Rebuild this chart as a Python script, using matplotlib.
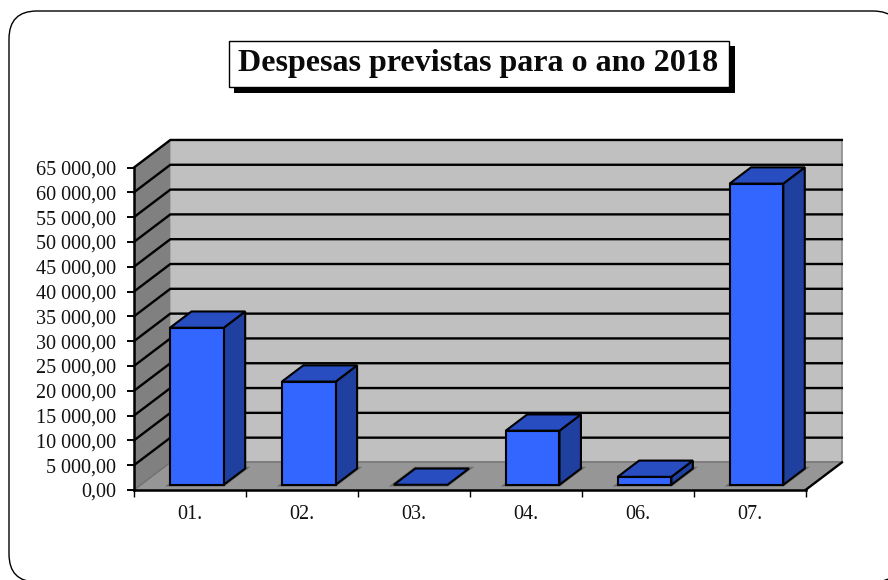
import matplotlib
matplotlib.use("Agg")
import matplotlib.pyplot as plt
from matplotlib.patches import FancyBboxPatch, Polygon, Rectangle

categories = ["01.", "02.", "03.", "04.", "06.", "07."]
values = [31650, 20800, 0, 10900, 1600, 60700]
y_ticks = [0, 5000, 10000, 15000, 20000, 25000, 30000, 35000, 40000, 45000, 50000, 55000, 60000, 65000]
y_labels = ["0,00", "5 000,00", "10 000,00", "15 000,00", "20 000,00", "25 000,00", "30 000,00",
            "35 000,00", "40 000,00", "45 000,00", "50 000,00", "55 000,00", "60 000,00", "65 000,00"]
title = "Despesas previstas para o ano 2018"

W, H = 888, 580
Y_MAX = 65000
DEPTH_X = 0.325     # how far the back wall sits, in category widths
DEPTH_Y = 5550      # same thing in value units
BAR_W = 0.48
BAR_D0, BAR_D1 = 0.19, 0.78

WALL = "#c0c0c0"
SIDE_WALL = "#808080"
FLOOR = "#969696"
FRONT = "#3366ff"
TOP = "#274dc0"
SIDE = "#2040a0"


def proj(x, y, d):
    return (x + d * DEPTH_X, y + d * DEPTH_Y)


def face(ax, pts, color, z, lw=1.5, edge="black"):
    ax.add_patch(Polygon(pts, closed=True, facecolor=color, edgecolor=edge,
                         linewidth=lw, zorder=z, clip_on=False, joinstyle="miter"))


def fig_rect(px0, py0, px1, py1, **kw):
    return Rectangle((px0 / W, 1 - py1 / H), (px1 - px0) / W, (py1 - py0) / H,
                     transform=fig.transFigure, **kw)


fig = plt.figure(figsize=(W / 100, H / 100), dpi=100, facecolor="white")

# rounded outer frame, runs off the right side and the bottom of the picture
# needs a filled face and a low zorder, an unfilled path gets clipped badly at the canvas edge
fig.add_artist(FancyBboxPatch((9 / W, 1 - 582 / H), 892 / W, 571 / H,
                              boxstyle="round,pad=0,rounding_size=0.0315",
                              mutation_aspect=W / H,
                              transform=fig.transFigure, facecolor="white",
                              edgecolor="black", linewidth=1.0, zorder=-1))

ax = fig.add_axes([134 / W, 1 - 490 / H, (805.5 - 134) / W, (490 - 167.5) / H])
ax.set_xlim(0, len(categories))
ax.set_ylim(0, Y_MAX)
ax.patch.set_visible(False)

n = len(categories)

# walls and floor
face(ax, [proj(0, 0, 1), proj(n, 0, 1), proj(n, Y_MAX, 1), proj(0, Y_MAX, 1)], WALL, 1, lw=0)
face(ax, [proj(0, 0, 0), proj(0, 0, 1), proj(0, Y_MAX, 1), proj(0, Y_MAX, 0)], SIDE_WALL, 1, lw=0)
face(ax, [proj(0, 0, 0), proj(n, 0, 0), proj(n, 0, 1), proj(0, 0, 1)], FLOOR, 1.5, lw=0)
ax.plot(*zip(proj(n, 0, 1), proj(n, Y_MAX, 1)), color="#8c8c8c", lw=1.2, zorder=1.6, clip_on=False)
ax.plot(*zip(proj(0, 0, 1), proj(n, 0, 1)), color="#707070", lw=1.2, zorder=1.6, clip_on=False)

# gridlines over the side wall and back wall
for v in y_ticks[1:]:
    p0, p1, p2 = proj(0, v, 0), proj(0, v, 1), proj(n, v, 1)
    ax.plot([p0[0], p1[0], p2[0]], [p0[1], p1[1], p2[1]], color="black", lw=1.7,
            zorder=2, clip_on=False, solid_joinstyle="miter")
ax.plot(*zip(proj(0, 0, 0), proj(0, 0, 1)), color="#707070", lw=1, zorder=2, clip_on=False)
ax.plot(*zip(proj(n, 0, 0), proj(n, 0, 1)), color="black", lw=1.7, zorder=2, clip_on=False)

# bars, drawn from left to right
for i, v in enumerate(values):
    x0 = i + 0.5 - BAR_W / 2
    x1 = i + 0.5 + BAR_W / 2
    z = 3 + i * 0.1
    # soft grey shadow around the foot of the bar
    face(ax, [proj(x0, 0, BAR_D0), proj(x1, 0, BAR_D0), proj(x1, 0, BAR_D1), proj(x0, 0, BAR_D1)],
         "#6e6e6e", z - 0.05, lw=2.5, edge="#6e6e6e")
    if v > 0:
        face(ax, [proj(x1, 0, BAR_D0), proj(x1, 0, BAR_D1), proj(x1, v, BAR_D1), proj(x1, v, BAR_D0)],
             SIDE, z)
        face(ax, [proj(x0, 0, BAR_D0), proj(x1, 0, BAR_D0), proj(x1, v, BAR_D0), proj(x0, v, BAR_D0)],
             FRONT, z)
    face(ax, [proj(x0, v, BAR_D0), proj(x1, v, BAR_D0), proj(x1, v, BAR_D1), proj(x0, v, BAR_D1)],
         TOP, z)

# axes: ticks on the category edges, labels in the middle of each slot
for side in ("top", "right"):
    ax.spines[side].set_visible(False)
for side in ("left", "bottom"):
    ax.spines[side].set_linewidth(1.8)
    ax.spines[side].set_zorder(6)
ax.set_yticks(y_ticks, y_labels, fontfamily="Liberation Serif", fontsize=14.5, color="#111111")
ax.set_xticks(range(n + 1), [""] * (n + 1))
ax.set_xticks([i + 0.5 for i in range(n)], categories, minor=True,
              fontfamily="Liberation Serif", fontsize=14.5, color="#111111")
ax.tick_params(axis="y", length=5, width=1.4, pad=8)
ax.tick_params(axis="x", which="major", length=5, width=1)
ax.tick_params(axis="x", which="minor", length=0, pad=11)

# title box with hard shadow
fig.add_artist(fig_rect(234, 46, 735, 93, facecolor="black", edgecolor="none"))
fig.add_artist(fig_rect(229, 41, 729, 87, facecolor="white", edgecolor="black", linewidth=1.0))
fig.text(478 / W, 1 - 64 / H, title, ha="center", va="center", fontfamily="Liberation Serif",
         fontweight="bold", fontsize=23.1, color="#0a0a0a")

fig.savefig("out.png", dpi=100)
